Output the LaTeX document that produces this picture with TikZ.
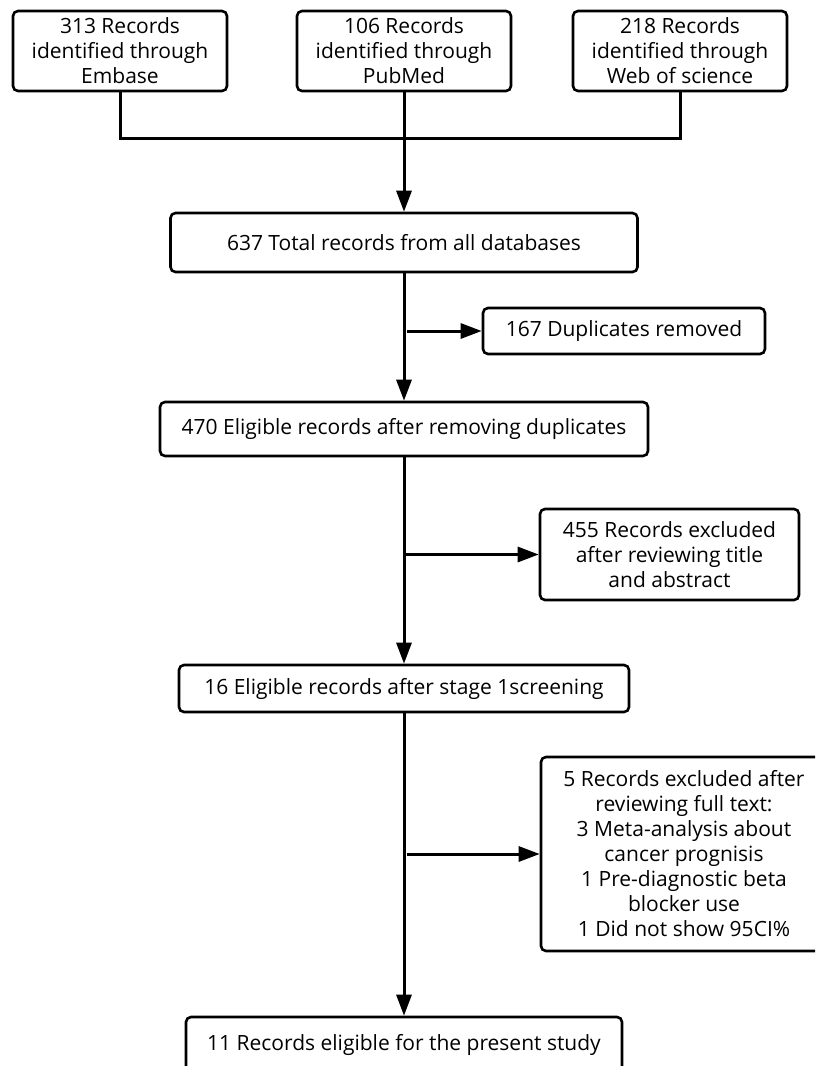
\documentclass[tikz,border=0pt]{standalone}
\usepackage{fontspec}
\setmainfont{Open Sans}
\usetikzlibrary{arrows.meta}
\begin{document}
\begin{tikzpicture}[x=1pt,y=-1pt,
  box/.style={draw, line width=2.6pt, rounded corners=5pt, align=center,
    font=\fontsize{21}{25}\selectfont, inner sep=0pt},
  conn/.style={line width=3pt},
  arr/.style={conn, -{Triangle[length=21pt,width=15pt]}}]
\useasboundingbox (0,0) rectangle (815,1066);
\clip (0,0) rectangle (815,1066);
\fill[white] (0,0) rectangle (815,1066);
\node[box, minimum width=214pt, minimum height=80pt] (b1) at (120,51) {313 Records\\identified through\\Embase};
\node[box, minimum width=214pt, minimum height=80pt] (b2) at (404,51) {106 Records\\identified through\\PubMed};
\node[box, minimum width=214pt, minimum height=80pt] (b3) at (680,51) {218 Records\\identified through\\Web of science};
\node[box, minimum width=467pt, minimum height=59pt] (tot) at (404,242.5) {637 Total records from all databases};
\node[box, minimum width=282pt, minimum height=46pt] (dup) at (624,331) {167 Duplicates removed};
\node[box, minimum width=488pt, minimum height=54pt] (e470) at (404,429) {470 Eligible records after removing duplicates};
\node[box, minimum width=259pt, minimum height=91pt] (x455) at (669.5,554.5) {455 Records excluded\\after reviewing title\\and abstract};
\node[box, minimum width=450pt, minimum height=47pt] (s16) at (404,688.5) {16 Eligible records after stage 1screening};
\node[box, minimum width=286pt, minimum height=194pt] (x5) at (684,854) {5 Records excluded after\\reviewing full text:\\3 Meta-analysis about\\cancer prognisis\\1 Pre-diagnostic beta\\blocker use\\1 Did not show 95CI\%};
\node[box, minimum width=436pt, minimum height=56pt] (fin) at (404,1045) {11 Records eligible for the present study};
\coordinate (j) at (404,138);
\draw[conn] (b1.south) |- (j) -| (b3.south);
\draw[arr] (b2.south) -- (tot.north);
\draw[arr] (tot.south) -- (e470.north);
\draw[arr] ([xshift=3pt]tot.south |- dup.west) -- (dup.west);
\draw[arr] (e470.south) -- (s16.north);
\draw[arr] (e470.south |- x455.west) -- (x455.west);
\draw[arr] (s16.south) -- (fin.north);
\draw[arr] ([xshift=3pt]s16.south |- x5.west) -- (x5.west);
\end{tikzpicture}
\end{document}
